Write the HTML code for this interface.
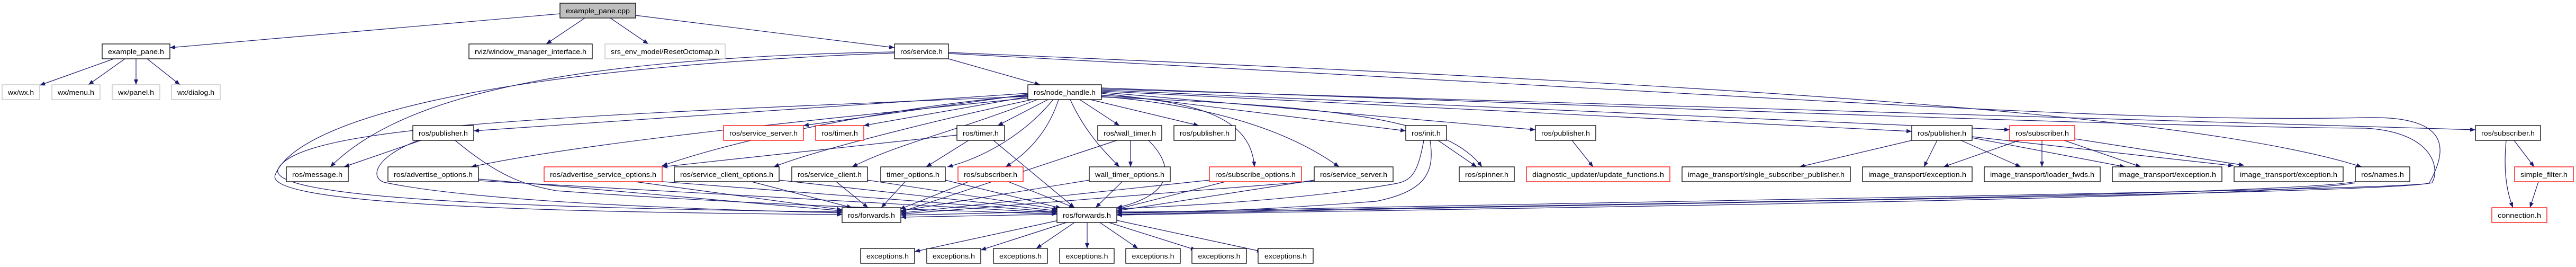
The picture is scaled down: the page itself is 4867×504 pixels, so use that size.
<!DOCTYPE html>
<html><head><meta charset="utf-8"><style>
html,body{margin:0;padding:0;background:#fff;}
svg{display:block;}
text{font-family:"Liberation Sans",sans-serif;font-size:13px;fill:#000;}
.e{fill:none;stroke:#191970;stroke-width:1.2;marker-end:url(#a);}
.n{fill:#fff;stroke:#000;stroke-width:1.3;}
.r{fill:#fff;stroke:#ff0000;stroke-width:1.3;}
.g{fill:#fff;stroke:#bfbfbf;stroke-width:1.3;}
</style></head><body>
<svg width="4867" height="504" viewBox="0 0 4867 504" xmlns="http://www.w3.org/2000/svg">
<defs><marker id="a" markerUnits="userSpaceOnUse" markerWidth="10" markerHeight="8" refX="10" refY="4" orient="auto"><path d="M0,0 L10,4 L0,8 z" fill="#191970"/></marker></defs>
<g>
<path class="e" d="M1058,26 L321,90"/>
<path class="e" d="M1105,34 L1032,83"/>
<path class="e" d="M1153,34 L1225,83"/>
<path class="e" d="M1201,29 L1690,90"/>
<path class="e" d="M215,111 L75,161"/>
<path class="e" d="M236,111 L167,160"/>
<path class="e" d="M257,111 L257,160"/>
<path class="e" d="M278,111 L340,160"/>
<path class="e" d="M1792,111 L1965,160"/>
<path class="e" d="M1690,98 C1000,110 740,200 624,315"/>
<path class="e" d="M1690,100 C900,130 560,230 520,330 C500,380 900,400 1591,405"/>
<path class="e" d="M1792,99 C3000,150 4100,200 4462,315"/>
<path class="e" d="M1792,101 C3500,190 4000,232 4470,222 C4640,218 4620,290 4590,345 C4560,365 3000,385 2110,405"/>
<path class="e" d="M2081,166 C3300,210 4100,240 4470,242 C4600,250 4610,320 4595,345 C4560,360 3000,380 2110,402"/>
<path class="e" d="M1942,176 L895,247"/>
<path class="e" d="M1942,178 L1518,237"/>
<path class="e" d="M1945,182 L1632,237"/>
<path class="e" d="M1980,188 L1885,237"/>
<path class="e" d="M2040,188 L2115,237"/>
<path class="e" d="M2060,188 L2265,237"/>
<path class="e" d="M2081,176 L2656,247"/>
<path class="e" d="M2081,174 L2901,245"/>
<path class="e" d="M2081,172 L3612,248"/>
<path class="e" d="M2081,170 L3797,245"/>
<path class="e" d="M2081,168 L4677,245"/>
<path class="e" d="M2081,180 C2300,190 2365,240 2370,315"/>
<path class="e" d="M2081,182 C2300,200 2440,250 2530,315"/>
<path class="e" d="M2081,183 C2500,200 2730,220 2800,315"/>
<path class="e" d="M1942,185 C1500,230 1100,270 890,315"/>
<path class="e" d="M1942,180 C1700,200 1400,260 1251,313"/>
<path class="e" d="M1950,188 C1800,220 1550,280 1462,315"/>
<path class="e" d="M1960,188 C1800,250 1700,270 1610,315"/>
<path class="e" d="M1990,188 C1930,260 1850,300 1790,315"/>
<path class="e" d="M2000,188 C1980,250 1940,290 1900,315"/>
<path class="e" d="M2022,188 C2050,250 2090,290 2115,315"/>
<path class="e" d="M1942,182 C1000,220 560,240 525,320 C510,370 900,392 1591,400"/>
<path class="e" d="M795,265 L650,315"/>
<path class="e" d="M790,265 C700,300 700,340 730,345 C900,380 1300,395 1591,402"/>
<path class="e" d="M860,265 C950,340 1000,350 1050,360 C1400,385 1700,395 1997,404"/>
<path class="e" d="M904,338 L1591,398"/>
<path class="e" d="M904,341 L1997,402"/>
<path class="e" d="M1200,343 L1591,396"/>
<path class="e" d="M1240,342 L1997,400"/>
<path class="e" d="M1420,343 L1610,392"/>
<path class="e" d="M1472,340 L1997,398"/>
<path class="e" d="M1580,343 L1640,392"/>
<path class="e" d="M1639,340 L2000,395"/>
<path class="e" d="M1710,343 L1665,392"/>
<path class="e" d="M1786,340 L2005,393"/>
<path class="e" d="M1830,343 L1700,395"/>
<path class="e" d="M1905,343 L2030,392"/>
<path class="e" d="M2058,340 L1702,398"/>
<path class="e" d="M2120,343 L2070,392"/>
<path class="e" d="M2285,340 L1702,402"/>
<path class="e" d="M2315,343 L2110,395"/>
<path class="e" d="M2483,342 L1702,404"/>
<path class="e" d="M2483,340 L2110,398"/>
<path class="e" d="M1830,265 L1750,315"/>
<path class="e" d="M1877,265 L2030,392"/>
<path class="e" d="M1808,255 L1251,315"/>
<path class="e" d="M2110,265 L1702,400"/>
<path class="e" d="M2136,265 L2136,315"/>
<path class="e" d="M2170,265 C2225,320 2210,370 2110,392"/>
<path class="e" d="M2690,265 C2680,320 2670,340 2640,346 C2400,390 2000,400 1702,406"/>
<path class="e" d="M2702,265 C2710,320 2700,360 2600,380 C2400,395 2300,400 2110,400"/>
<path class="e" d="M2717,265 L2790,315"/>
<path class="e" d="M2970,265 L3010,315"/>
<path class="e" d="M3612,265 L3400,315"/>
<path class="e" d="M3660,265 L3635,315"/>
<path class="e" d="M3705,265 L3818,315"/>
<path class="e" d="M3726,260 L4015,315"/>
<path class="e" d="M3726,258 L4220,313"/>
<path class="e" d="M3815,265 L3672,315"/>
<path class="e" d="M3858,265 L3858,315"/>
<path class="e" d="M3900,265 L4045,315"/>
<path class="e" d="M3920,262 L4240,312"/>
<path class="e" d="M4450,343 C4300,370 3000,385 1702,410"/>
<path class="e" d="M4450,345 C4300,375 3000,390 2110,406"/>
<path class="e" d="M4735,265 C4730,320 4735,360 4748,392"/>
<path class="e" d="M4750,265 L4788,315"/>
<path class="e" d="M4796,343 L4780,392"/>
<path class="e" d="M2000,416 L1728,475"/>
<path class="e" d="M2015,420 L1853,472"/>
<path class="e" d="M2030,420 L1958,469"/>
<path class="e" d="M2054,420 L2054,469"/>
<path class="e" d="M2078,420 L2150,469"/>
<path class="e" d="M2095,420 L2260,472"/>
<path class="e" d="M2110,416 L2385,475"/>
</g>
<g>
<rect x="1058" y="6" width="143" height="28" fill="#bfbfbf" stroke="#000" stroke-width="1.3"/><text x="1129.5" y="25" text-anchor="middle" textLength="121" lengthAdjust="spacingAndGlyphs">example_pane.cpp</text>
<rect class="n" x="193" y="83" width="128" height="28"/><text x="257" y="102" text-anchor="middle" textLength="106" lengthAdjust="spacingAndGlyphs">example_pane.h</text>
<rect class="n" x="886" y="83" width="233" height="28"/><text x="1002.5" y="102" text-anchor="middle" textLength="211" lengthAdjust="spacingAndGlyphs">rviz/window_manager_interface.h</text>
<rect class="g" x="1143" y="83" width="227" height="28"/><text x="1256.5" y="102" text-anchor="middle" textLength="205" lengthAdjust="spacingAndGlyphs">srs_env_model/ResetOctomap.h</text>
<rect class="n" x="1690" y="83" width="102" height="28"/><text x="1741" y="102" text-anchor="middle" textLength="80" lengthAdjust="spacingAndGlyphs">ros/service.h</text>
<rect class="g" x="4" y="160" width="71" height="28"/><text x="39.5" y="179" text-anchor="middle" textLength="49" lengthAdjust="spacingAndGlyphs">wx/wx.h</text>
<rect class="g" x="98" y="160" width="91" height="28"/><text x="143.5" y="179" text-anchor="middle" textLength="69" lengthAdjust="spacingAndGlyphs">wx/menu.h</text>
<rect class="g" x="212" y="160" width="90" height="28"/><text x="257" y="179" text-anchor="middle" textLength="68" lengthAdjust="spacingAndGlyphs">wx/panel.h</text>
<rect class="g" x="324" y="160" width="92" height="28"/><text x="370" y="179" text-anchor="middle" textLength="70" lengthAdjust="spacingAndGlyphs">wx/dialog.h</text>
<rect class="n" x="1942" y="160" width="139" height="28"/><text x="2011.5" y="179" text-anchor="middle" textLength="117" lengthAdjust="spacingAndGlyphs">ros/node_handle.h</text>

<rect class="n" x="780" y="237" width="115" height="28"/><text x="837.5" y="256" text-anchor="middle" textLength="93" lengthAdjust="spacingAndGlyphs">ros/publisher.h</text>
<rect class="r" x="1367" y="237" width="151" height="28"/><text x="1442.5" y="256" text-anchor="middle" textLength="129" lengthAdjust="spacingAndGlyphs">ros/service_server.h</text>
<rect class="r" x="1541" y="237" width="91" height="28"/><text x="1586.5" y="256" text-anchor="middle" textLength="69" lengthAdjust="spacingAndGlyphs">ros/timer.h</text>
<rect class="n" x="1808" y="237" width="90" height="28"/><text x="1853" y="256" text-anchor="middle" textLength="68" lengthAdjust="spacingAndGlyphs">ros/timer.h</text>
<rect class="n" x="2074" y="237" width="121" height="28"/><text x="2134.5" y="256" text-anchor="middle" textLength="99" lengthAdjust="spacingAndGlyphs">ros/wall_timer.h</text>
<rect class="n" x="2218" y="237" width="116" height="28"/><text x="2276" y="256" text-anchor="middle" textLength="94" lengthAdjust="spacingAndGlyphs">ros/publisher.h</text>
<rect class="n" x="2656" y="237" width="77" height="28"/><text x="2694.5" y="256" text-anchor="middle" textLength="55" lengthAdjust="spacingAndGlyphs">ros/init.h</text>
<rect class="n" x="2901" y="237" width="114" height="28"/><text x="2958" y="256" text-anchor="middle" textLength="92" lengthAdjust="spacingAndGlyphs">ros/publisher.h</text>
<rect class="n" x="3612" y="237" width="114" height="28"/><text x="3669" y="256" text-anchor="middle" textLength="92" lengthAdjust="spacingAndGlyphs">ros/publisher.h</text>
<rect class="r" x="3797" y="237" width="123" height="28"/><text x="3858.5" y="256" text-anchor="middle" textLength="101" lengthAdjust="spacingAndGlyphs">ros/subscriber.h</text>
<rect class="n" x="4677" y="237" width="123" height="28"/><text x="4738.5" y="256" text-anchor="middle" textLength="101" lengthAdjust="spacingAndGlyphs">ros/subscriber.h</text>

<rect class="n" x="541" y="315" width="117" height="28"/><text x="599.5" y="334" text-anchor="middle" textLength="95" lengthAdjust="spacingAndGlyphs">ros/message.h</text>
<rect class="n" x="733" y="315" width="171" height="28"/><text x="818.5" y="334" text-anchor="middle" textLength="149" lengthAdjust="spacingAndGlyphs">ros/advertise_options.h</text>
<rect class="r" x="1028" y="315" width="223" height="28"/><text x="1139.5" y="334" text-anchor="middle" textLength="201" lengthAdjust="spacingAndGlyphs">ros/advertise_service_options.h</text>
<rect class="n" x="1274" y="315" width="198" height="28"/><text x="1373" y="334" text-anchor="middle" textLength="176" lengthAdjust="spacingAndGlyphs">ros/service_client_options.h</text>
<rect class="n" x="1496" y="315" width="143" height="28"/><text x="1567.5" y="334" text-anchor="middle" textLength="121" lengthAdjust="spacingAndGlyphs">ros/service_client.h</text>
<rect class="n" x="1664" y="315" width="122" height="28"/><text x="1725" y="334" text-anchor="middle" textLength="100" lengthAdjust="spacingAndGlyphs">timer_options.h</text>
<rect class="r" x="1810" y="315" width="123" height="28"/><text x="1871.5" y="334" text-anchor="middle" textLength="101" lengthAdjust="spacingAndGlyphs">ros/subscriber.h</text>
<rect class="n" x="2058" y="315" width="153" height="28"/><text x="2134.5" y="334" text-anchor="middle" textLength="131" lengthAdjust="spacingAndGlyphs">wall_timer_options.h</text>
<rect class="r" x="2285" y="315" width="174" height="28"/><text x="2372" y="334" text-anchor="middle" textLength="152" lengthAdjust="spacingAndGlyphs">ros/subscribe_options.h</text>
<rect class="n" x="2483" y="315" width="149" height="28"/><text x="2557.5" y="334" text-anchor="middle" textLength="127" lengthAdjust="spacingAndGlyphs">ros/service_server.h</text>
<rect class="n" x="2757" y="315" width="104" height="28"/><text x="2809" y="334" text-anchor="middle" textLength="82" lengthAdjust="spacingAndGlyphs">ros/spinner.h</text>
<rect class="r" x="2884" y="315" width="271" height="28"/><text x="3019.5" y="334" text-anchor="middle" textLength="249" lengthAdjust="spacingAndGlyphs">diagnostic_updater/update_functions.h</text>
<rect class="n" x="3178" y="315" width="318" height="28"/><text x="3337" y="334" text-anchor="middle" textLength="296" lengthAdjust="spacingAndGlyphs">image_transport/single_subscriber_publisher.h</text>
<rect class="n" x="3519" y="315" width="207" height="28"/><text x="3622.5" y="334" text-anchor="middle" textLength="185" lengthAdjust="spacingAndGlyphs">image_transport/exception.h</text>
<rect class="n" x="3749" y="315" width="219" height="28"/><text x="3858.5" y="334" text-anchor="middle" textLength="197" lengthAdjust="spacingAndGlyphs">image_transport/loader_fwds.h</text>
<rect class="n" x="3991" y="315" width="207" height="28"/><text x="4094.5" y="334" text-anchor="middle" textLength="185" lengthAdjust="spacingAndGlyphs">image_transport/exception.h</text>
<rect class="n" x="4221" y="315" width="206" height="28"/><text x="4324" y="334" text-anchor="middle" textLength="184" lengthAdjust="spacingAndGlyphs">image_transport/exception.h</text>
<rect class="n" x="4450" y="315" width="103" height="28"/><text x="4501.5" y="334" text-anchor="middle" textLength="81" lengthAdjust="spacingAndGlyphs">ros/names.h</text>
<rect class="r" x="4751" y="315" width="111" height="28"/><text x="4806.5" y="334" text-anchor="middle" textLength="89" lengthAdjust="spacingAndGlyphs">simple_filter.h</text>

<rect class="n" x="1591" y="392" width="111" height="28"/><text x="1646.5" y="411" text-anchor="middle" textLength="89" lengthAdjust="spacingAndGlyphs">ros/forwards.h</text>
<rect class="n" x="1997" y="392" width="113" height="28"/><text x="2053.5" y="411" text-anchor="middle" textLength="91" lengthAdjust="spacingAndGlyphs">ros/forwards.h</text>
<rect class="r" x="4708" y="392" width="104" height="28"/><text x="4760" y="411" text-anchor="middle" textLength="82" lengthAdjust="spacingAndGlyphs">connection.h</text>

<rect class="n" x="1626" y="469" width="102" height="28"/><text x="1677" y="488" text-anchor="middle" textLength="80" lengthAdjust="spacingAndGlyphs">exceptions.h</text>
<rect class="n" x="1751" y="469" width="102" height="28"/><text x="1802" y="488" text-anchor="middle" textLength="80" lengthAdjust="spacingAndGlyphs">exceptions.h</text>
<rect class="n" x="1877" y="469" width="102" height="28"/><text x="1928" y="488" text-anchor="middle" textLength="80" lengthAdjust="spacingAndGlyphs">exceptions.h</text>
<rect class="n" x="2002" y="469" width="103" height="28"/><text x="2053.5" y="488" text-anchor="middle" textLength="80" lengthAdjust="spacingAndGlyphs">exceptions.h</text>
<rect class="n" x="2127" y="469" width="103" height="28"/><text x="2178.5" y="488" text-anchor="middle" textLength="80" lengthAdjust="spacingAndGlyphs">exceptions.h</text>
<rect class="n" x="2252" y="469" width="103" height="28"/><text x="2303.5" y="488" text-anchor="middle" textLength="80" lengthAdjust="spacingAndGlyphs">exceptions.h</text>
<rect class="n" x="2377" y="469" width="104" height="28"/><text x="2429" y="488" text-anchor="middle" textLength="80" lengthAdjust="spacingAndGlyphs">exceptions.h</text>
</g>
</svg>
</body></html>
